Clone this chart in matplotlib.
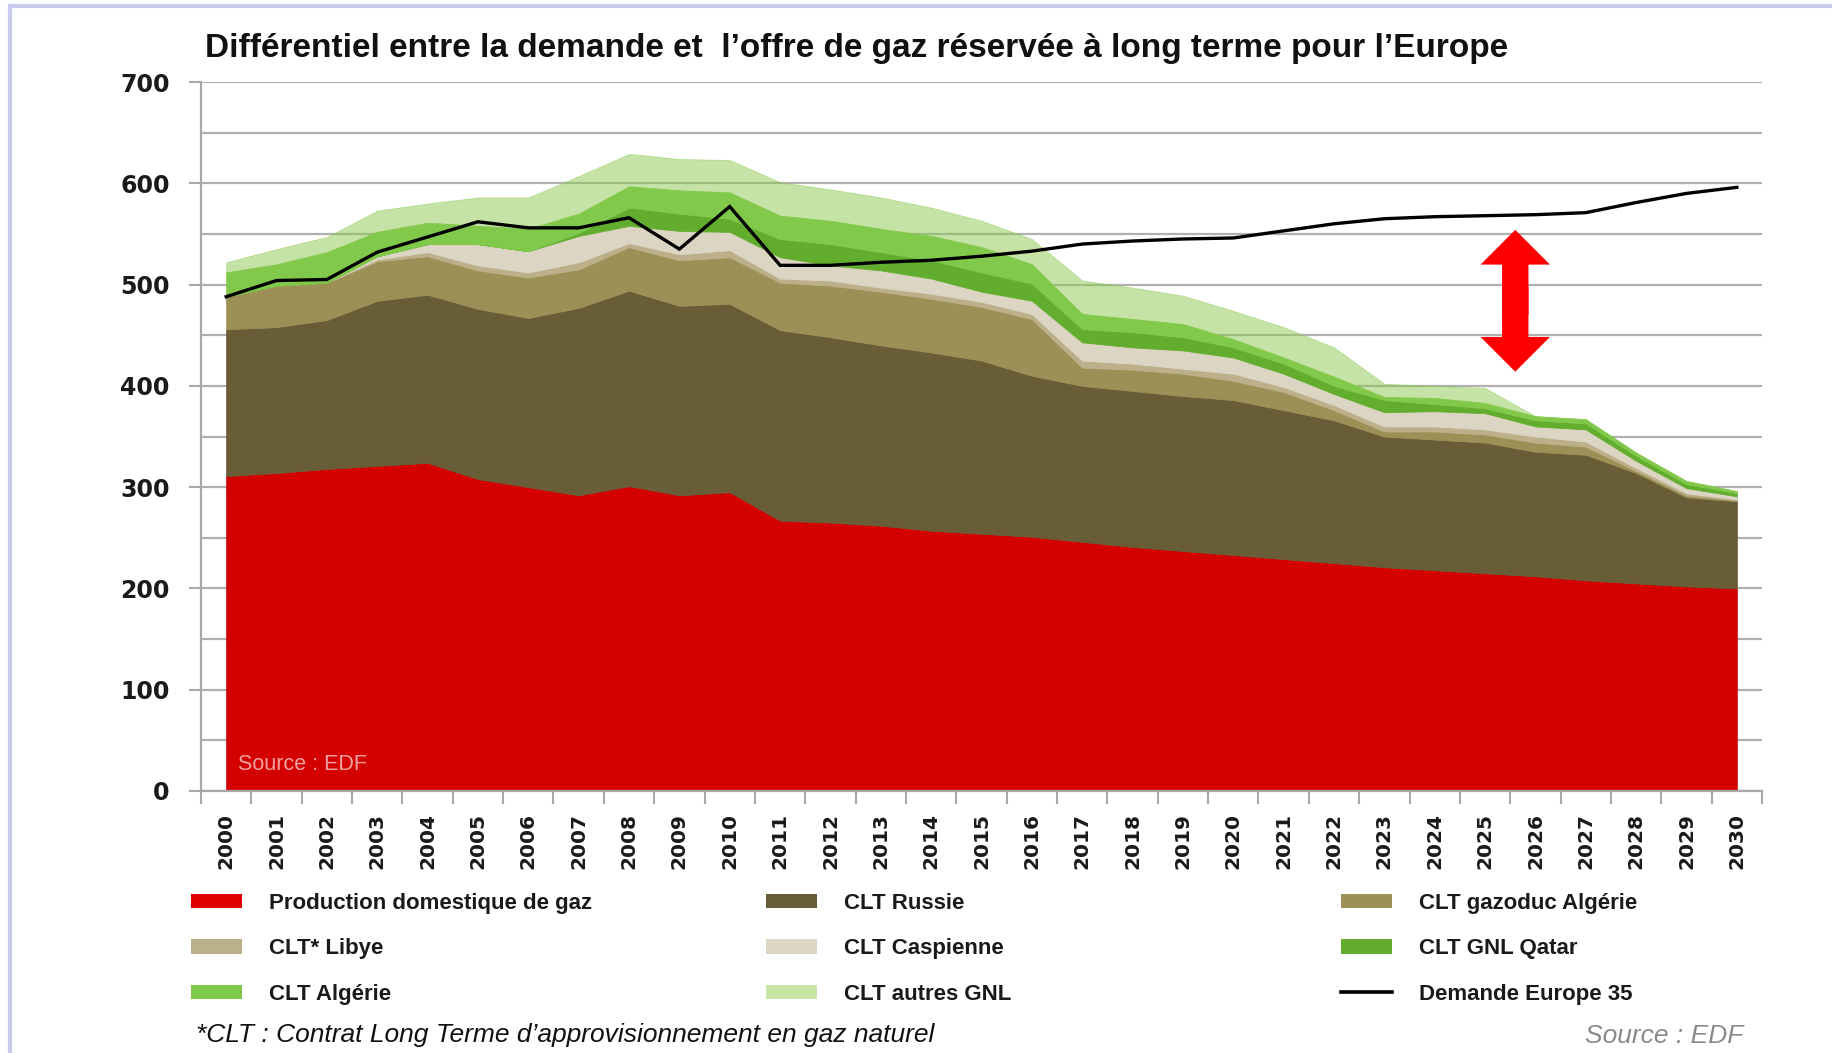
import numpy as np
import matplotlib
matplotlib.use("Agg")
import matplotlib.pyplot as plt
from matplotlib.patches import FancyArrowPatch, Patch
from matplotlib.lines import Line2D
from matplotlib.ticker import MultipleLocator, FixedLocator

plt.rcParams['font.family'] = ['Liberation Sans', 'DejaVu Sans']

# ---------------- data ----------------
years = [str(y) for y in range(2000, 2031)]

production = [311, 314, 318, 321, 324, 308, 300, 292, 301, 292, 295, 267, 265, 262, 257, 254,
              251, 246, 241, 237, 233, 229, 225, 221, 218, 215, 212, 208, 205, 202, 200]
russie = [145, 144, 147, 163, 166, 168, 167, 185, 193, 187, 186, 188, 183, 178, 176, 171,
          159, 154, 154, 153, 153, 147, 141, 129, 129, 129, 123, 124, 109, 88, 86]
gazoduc_algerie = [32, 41, 37, 39, 38, 38, 40, 38, 43, 45, 46, 47, 51, 53, 53, 53,
                   56, 18, 21, 22, 19, 18, 10, 5, 8, 8, 9, 8, 2, 2, 1]
libye = [0, 0, 0, 2, 4, 5, 5, 7, 4, 6, 7, 4, 5, 4, 5, 5,
         5, 7, 6, 5, 7, 5, 5, 5, 5, 5, 6, 5, 3, 2, 1]
caspienne = [0, 0, 0, 3, 8, 21, 21, 26, 17, 23, 18, 21, 15, 17, 15, 10,
             13, 18, 16, 18, 16, 13, 11, 14, 15, 16, 10, 12, 7, 5, 3]
gnl_qatar = [0, 0, 0, 0, 0, 0, 0, 3, 18, 17, 13, 18, 21, 18, 18, 19,
             17, 13, 15, 13, 10, 10, 8, 12, 7, 5, 6, 6, 5, 4, 3]
algerie = [24, 21, 30, 24, 21, 18, 22, 19, 21, 23, 26, 23, 23, 23, 24, 25,
           19, 15, 13, 13, 8, 6, 9, 3, 6, 5, 4, 4, 3, 3, 2]
autres_gnl = [10, 15, 15, 21, 19, 28, 31, 37, 32, 31, 32, 33, 31, 31, 28, 26,
              25, 33, 31, 28, 28, 30, 29, 13, 12, 15, 0, 0, 0, 0, 0]
demande = [488, 504, 505, 532, 547, 562, 556, 556, 566, 535, 577, 519, 519, 522, 524, 528,
           533, 540, 543, 545, 546, 553, 560, 565, 567, 568, 569, 571, 581, 590, 596]

series_labels = ["Production domestique de gaz", "CLT Russie", "CLT gazoduc Algérie",
                 "CLT* Libye", "CLT Caspienne", "CLT GNL Qatar", "CLT Algérie",
                 "CLT autres GNL"]
line_label = "Demande Europe 35"
colors = ['#d40000', '#695d37', '#9c9056', '#bcb08a', '#dcd5c3', '#62ad2e', '#80c94a', '#8cc94f']
legend_colors = ['#e00000', '#695d37', '#9c9056', '#bcb08a', '#dcd5c3', '#62ad2e', '#80c94a', '#c5e4a6']

title = "Différentiel entre la demande et  l’offre de gaz réservée à long terme pour l’Europe"
footnote = "*CLT : Contrat Long Terme d’approvisionnement en gaz naturel"
source = "Source : EDF"

# ---------------- figure ----------------
W, H = 1832, 1053
fig = plt.figure(figsize=(W / 100, H / 100), dpi=100)
fig.patch.set_facecolor('white')

ax = fig.add_axes([201 / W, 1 - 791 / H, (1762 - 201) / W, (791 - 82) / H])
x = np.arange(len(years))

polys = ax.stackplot(x, production, russie, gazoduc_algerie, libye, caspienne,
                     gnl_qatar, algerie, autres_gnl, colors=colors,
                     edgecolor='face', linewidth=0.6, zorder=2)
polys[-1].set_alpha(0.5)

ax.plot(x, demande, color='black', lw=2.4, zorder=4, solid_joinstyle='miter')

ax.set_xlim(-0.5, len(years) - 0.5)
ax.set_ylim(0, 700)

# y axis
ax.yaxis.set_major_locator(MultipleLocator(100))
ax.yaxis.set_minor_locator(MultipleLocator(50))
ax.grid(axis='y', which='both', color='#b0b0b0', lw=1.6, zorder=0)
ax.set_axisbelow(True)
ax.tick_params(axis='y', which='major', length=9, width=1.5, color='#a8a8a8',
               pad=13.5, labelsize=17)
ax.tick_params(axis='y', which='minor', length=0)
for lab in ax.get_yticklabels():
    lab.set_fontfamily('DejaVu Sans')
    lab.set_fontweight('bold')
    lab.set_color('#1a1a1a')

# x axis
ax.set_xticks(x)
ax.set_xticklabels(years, rotation=90, fontfamily='DejaVu Sans', fontweight='bold',
                   fontsize=14.5, color='#1a1a1a')
ax.xaxis.set_minor_locator(FixedLocator(np.arange(-0.5, len(years), 1.0)))
ax.tick_params(axis='x', which='major', length=0, pad=16)
ax.tick_params(axis='x', which='minor', length=9, width=1.5, color='#a8a8a8')

for side in ['top', 'right']:
    ax.spines[side].set_visible(False)
for side in ['left', 'bottom']:
    ax.spines[side].set_color('#a8a8a8')
    ax.spines[side].set_linewidth(1.6)

# double arrow (two overlapping single arrows)
arrow_x = 25.6
arr_kw = dict(arrowstyle='simple,head_length=1.25,head_width=2.5,tail_width=0.95',
              mutation_scale=20, color='#ff0000', shrinkA=0, shrinkB=0, zorder=5, lw=0)
ax.add_patch(FancyArrowPatch((arrow_x, 470), (arrow_x, 554), **arr_kw))
ax.add_patch(FancyArrowPatch((arrow_x, 498), (arrow_x, 414), **arr_kw))

# in-chart source
ax.text(0.024, 0.038, source, transform=ax.transAxes, color='#f3a0a0',
        fontsize=15.5, ha='left', va='center', zorder=6)

# title
fig.text(857 / W, 1 - 48 / H, title, ha='center', va='center', fontsize=24,
         fontweight='bold', color='#111111')

# legends (three columns)
handles = [Patch(facecolor=c, edgecolor='none') for c in legend_colors]
line_handle = Line2D([], [], color='black', lw=2.6)
cols = [
    ([handles[0], handles[3], handles[6]], [series_labels[0], series_labels[3], series_labels[6]], 191),
    ([handles[1], handles[4], handles[7]], [series_labels[1], series_labels[4], series_labels[7]], 766),
    ([handles[2], handles[5], line_handle], [series_labels[2], series_labels[5], line_label], 1341),
]
for hs, ls, xl in cols:
    leg = fig.legend(hs, ls, loc='upper left', bbox_to_anchor=(xl / W, 1 - 893 / H),
                     frameon=False, borderpad=0, borderaxespad=0, fontsize=16,
                     handlelength=2.3, handleheight=0.62, handletextpad=1.2,
                     labelspacing=1.1)
    for t in leg.get_texts():
        t.set_fontweight('bold')
        t.set_color('#1a1a1a')

# footnote and source
fig.text(196 / W, 1 - 1035 / H, footnote, ha='left', va='center', fontsize=19,
         style='italic', color='#111111')
fig.text(1743 / W, 1 - 1036 / H, source, ha='right', va='center', fontsize=19,
         style='italic', color='#8a8a8a')

# frame border (lavender)
fig.add_artist(Line2D([10 / W, 10 / W], [0, 1 - 6 / H], transform=fig.transFigure,
                      color='#cacaee', lw=3))
fig.add_artist(Line2D([10 / W, 1], [1 - 6 / H, 1 - 6 / H], transform=fig.transFigure,
                      color='#cacaee', lw=3))

fig.savefig('out.png', dpi=100, facecolor='white')
